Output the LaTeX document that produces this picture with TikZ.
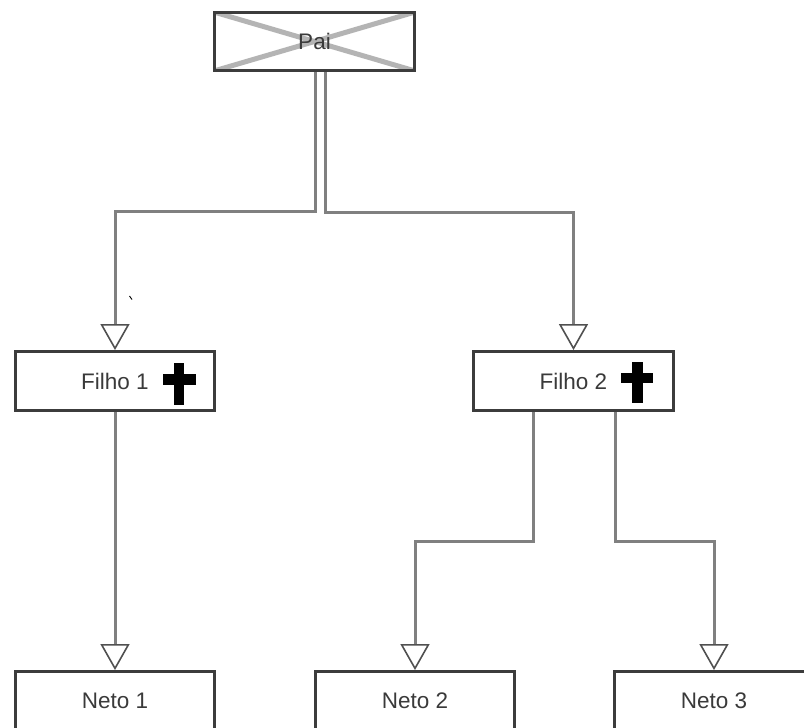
\documentclass[tikz,border=0pt]{standalone}
\usepackage{fontspec}
\setmainfont{Liberation Sans}
\usetikzlibrary{arrows.meta}
\definecolor{boxline}{HTML}{3C3C3C}
\definecolor{connline}{HTML}{808080}
\definecolor{tipline}{HTML}{505050}
\definecolor{crossline}{HTML}{B4B4B4}
\definecolor{labeltext}{HTML}{3A3A3A}
\tikzset{
  x=1pt,y=1pt,
  treebox/.style={draw=boxline,line width=3.4pt,fill=white,minimum width=199.5pt,minimum height=58.5pt,inner sep=0pt,
    text=labeltext,font=\fontsize{22.5}{24}\selectfont},
  conn/.style={draw=connline,line width=3pt,-{Triangle[open,length=26pt,width=29pt,line width=1.6pt,color=tipline]}},
  tombstone/.style={fill=black,draw=none},
}
\begin{document}
\begin{tikzpicture}
\useasboundingbox (0,0) rectangle (804,-728);
\clip (0,0) rectangle (804,-728);
% boxes
\node[treebox,path picture={
  \draw[crossline,line width=5pt] (path picture bounding box.north west) -- (path picture bounding box.south east);
  \draw[crossline,line width=5pt] (path picture bounding box.south west) -- (path picture bounding box.north east);
}] (pai) at (314.5,-41.5) {Pai};
\node[treebox] (f1) at (115,-381) {Filho 1};
\node[treebox] (f2) at (573.5,-381) {Filho 2};
\node[treebox] (n1) at (115,-701) {Neto 1};
\node[treebox] (n2) at (415,-701) {Neto 2};
\node[treebox] (n3) at (714,-701) {Neto 3};
% connectors
\draw[conn] ([xshift=0.5pt]pai.south) -- ++(0,-139) -| (f1.north);
\draw[conn] ([xshift=10.5pt]pai.south) -- ++(0,-140) -| (f2.north);
\draw[conn] (f1.south) -- (n1.north);
\draw[conn] ([xshift=-40pt]f2.south) -- ++(0,-130) -| (n2.north);
\draw[conn] ([xshift=42pt]f2.south) -- ++(0,-130) -| (n3.north);
% crosses
\fill[tombstone] (163,-374) rectangle (196,-385);
\fill[tombstone] (174,-363) rectangle (184,-405);
\fill[tombstone] (621,-373) rectangle (653,-383);
\fill[tombstone] (632,-362) rectangle (643,-403);
% stray mark
\draw[black,line width=0.9pt] (129.5,-296) -- (132,-299.5);
\end{tikzpicture}
\end{document}
